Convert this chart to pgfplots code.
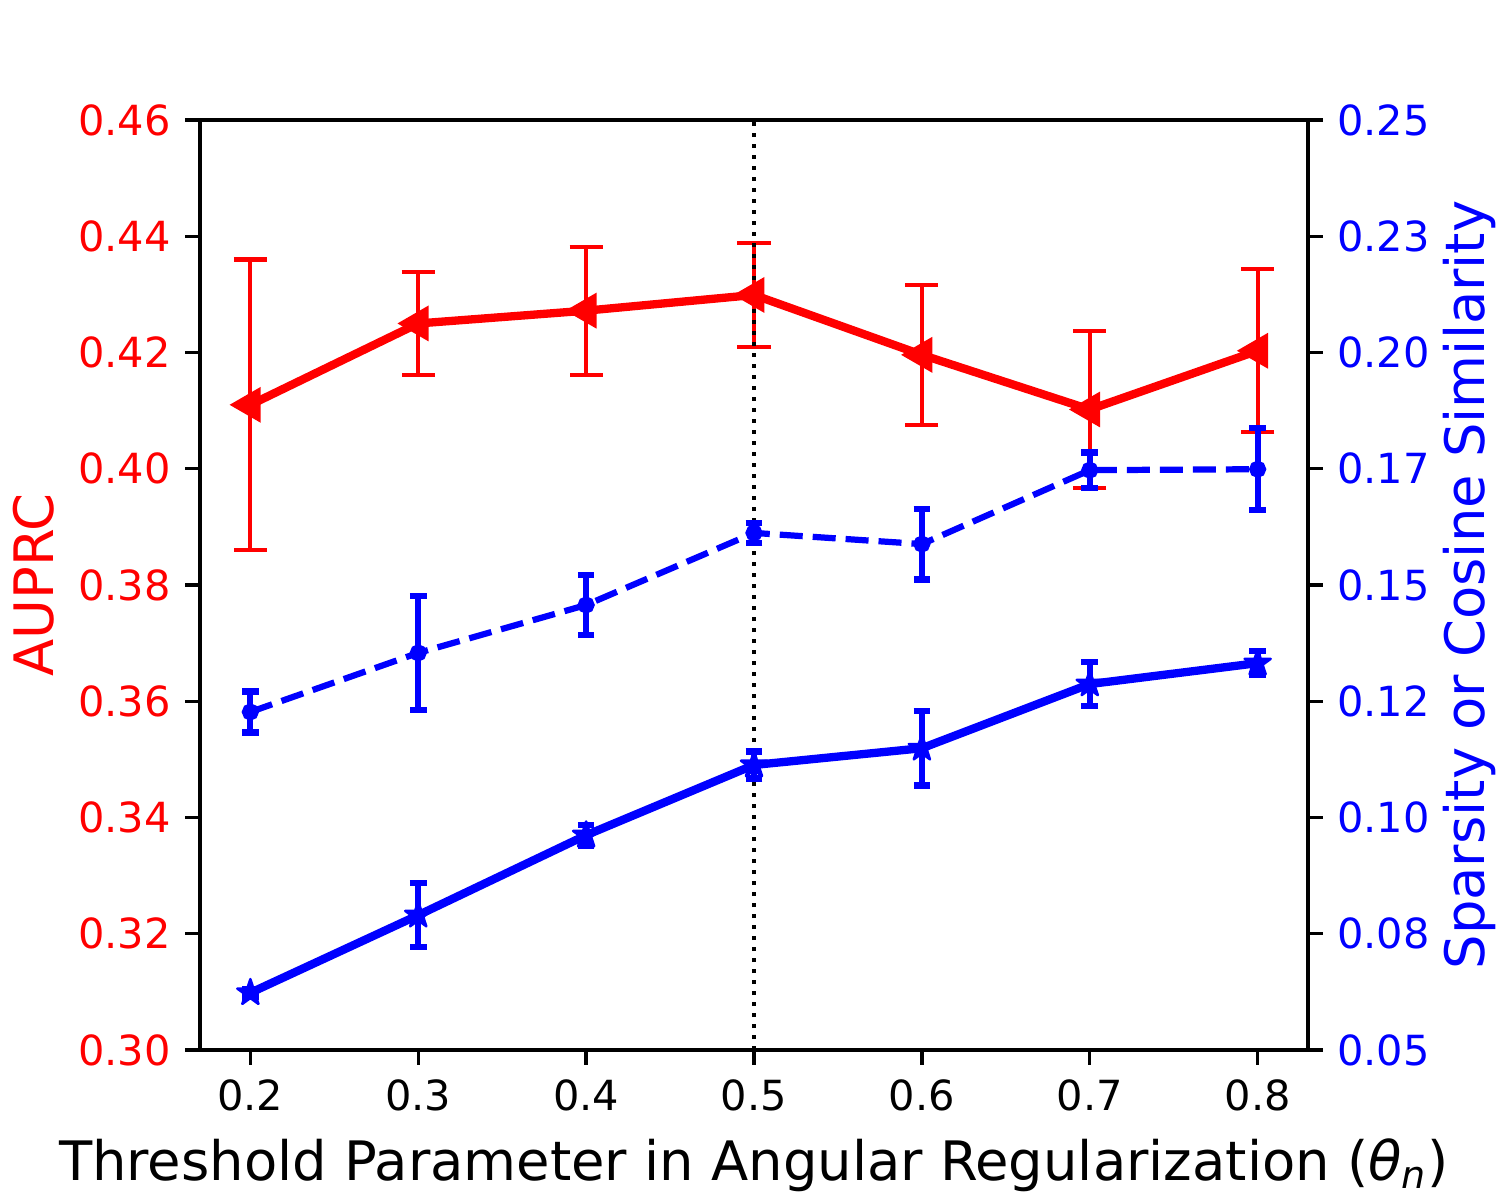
\documentclass[border=0pt]{standalone}
\usepackage{fontspec}
\setmainfont{DejaVu Sans}
\usepackage{pgfplots}
\usepackage{pgfplotstable}
\pgfplotsset{compat=1.18}

\definecolor{mplred}{HTML}{FF0000}
\definecolor{mplblue}{HTML}{0000FF}

% filled five-point star, like matplotlib's '*'
\pgfdeclareplotmark{fstar}{%
  \pgfpathmoveto{\pgfpointpolar{90}{\pgfplotmarksize}}%
  \pgfpathlineto{\pgfpointpolar{126}{0.382\pgfplotmarksize}}%
  \pgfpathlineto{\pgfpointpolar{162}{\pgfplotmarksize}}%
  \pgfpathlineto{\pgfpointpolar{198}{0.382\pgfplotmarksize}}%
  \pgfpathlineto{\pgfpointpolar{234}{\pgfplotmarksize}}%
  \pgfpathlineto{\pgfpointpolar{270}{0.382\pgfplotmarksize}}%
  \pgfpathlineto{\pgfpointpolar{306}{\pgfplotmarksize}}%
  \pgfpathlineto{\pgfpointpolar{342}{0.382\pgfplotmarksize}}%
  \pgfpathlineto{\pgfpointpolar{18}{\pgfplotmarksize}}%
  \pgfpathlineto{\pgfpointpolar{54}{0.382\pgfplotmarksize}}%
  \pgfpathclose
  \pgfusepathqfillstroke
}

\pgfplotstableread{
x   y      err
0.2 0.4110 0.0250
0.3 0.4250 0.0088
0.4 0.4272 0.0110
0.5 0.4299 0.0090
0.6 0.4196 0.0120
0.7 0.4102 0.0135
0.8 0.4203 0.0140
}\auprc

\pgfplotstableread{
x   y      err
0.2 0.1227 0.0044
0.3 0.1354 0.0123
0.4 0.1457 0.0065
0.5 0.1612 0.0022
0.6 0.1588 0.0076
0.7 0.1747 0.0038
0.8 0.1749 0.0088
}\cosine

\pgfplotstableread{
x   y      err
0.2 0.0623 0.0008
0.3 0.0790 0.0069
0.4 0.0962 0.0022
0.5 0.1113 0.0029
0.6 0.1149 0.0080
0.7 0.1287 0.0047
0.8 0.1332 0.0026
}\sparsity

\pgfplotsset{
  common/.style={
    width=266.92pt, height=224.04pt, scale only axis,
    at={(0,0)}, anchor=south west,
    xmin=0.17, xmax=0.83,
    tick align=outside,
    major tick length=3.5pt,
    every tick/.style={black, line width=0.8pt},
    axis line style={line width=0.8pt},
    scaled ticks=false,
    tick label style={font=\fontsize{10}{12}\selectfont},
    label style={font=\fontsize{13.1}{15.5}\selectfont},
    /pgf/number format/assume math mode=true,
  },
}

\begin{document}
\begin{tikzpicture}
  \useasboundingbox (-48.18pt,-36.14pt) rectangle (313.17pt,252.95pt);

  \begin{axis}[
    common,
    ymin=0.30, ymax=0.46,
    xtick={0.2,0.3,0.4,0.5,0.6,0.7,0.8},
    ytick={0.30,0.32,0.34,0.36,0.38,0.40,0.42,0.44,0.46},
    xtick pos=bottom, ytick pos=left,
    xticklabel style={/pgf/number format/.cd, fixed, fixed zerofill, precision=1},
    yticklabel style={mplred, /pgf/number format/.cd, fixed, fixed zerofill, precision=2},
    xlabel={Threshold Parameter in Angular Regularization (\textit{θ\textsubscript{n}})},
    ylabel={AUPRC},
    ylabel style={mplred},
    ylabel shift=-1pt,
  ]
    \addplot[mplred, line width=2pt, mark=triangle*,
      mark options={rotate=90, mark size=4.5pt, line width=0.5pt, fill=mplred},
      error bars/.cd, y dir=both, y explicit,
      error bar style={line width=1pt, mplred},
      error mark options={rotate=90, mark size=4pt, line width=1pt, mplred}]
      table[x=x, y=y, y error=err] {\auprc};
    \addplot[black, line width=1pt, dash pattern=on 1pt off 1.65pt]
      coordinates {(0.5,0.30) (0.5,0.46)};
  \end{axis}

  \begin{axis}[
    common,
    axis x line=none,
    axis y line*=right,
    axis line style={-},
    ymin=0.05, ymax=0.25,
    ytick={0.05,0.075,0.10,0.125,0.15,0.175,0.20,0.225,0.25},
    yticklabels={0.05,0.08,0.10,0.12,0.15,0.17,0.20,0.23,0.25},
    yticklabel style={mplblue},
    ylabel={Sparsity or Cosine Similarity},
    ylabel style={mplblue},
    ylabel shift=-3.5pt,
  ]
    \addplot[mplblue, line width=1.5pt, dash pattern=on 5.55pt off 2.4pt,
      mark=*, mark options={solid, mark size=1.3pt, fill=mplblue},
      error bars/.cd, y dir=both, y explicit,
      error bar style={solid, line width=1.5pt, mplblue},
      error mark options={solid, rotate=90, mark size=2pt, line width=1.5pt, mplblue}]
      table[x=x, y=y, y error=err] {\cosine};
    \addplot[mplblue, line width=2pt,
      mark=fstar, mark options={mark size=3.3pt, line width=0.6pt, line join=round, fill=mplblue},
      error bars/.cd, y dir=both, y explicit,
      error bar style={line width=1.5pt, mplblue},
      error mark options={rotate=90, mark size=2pt, line width=1.5pt, mplblue}]
      table[x=x, y=y, y error=err] {\sparsity};
  \end{axis}
\end{tikzpicture}
\end{document}
